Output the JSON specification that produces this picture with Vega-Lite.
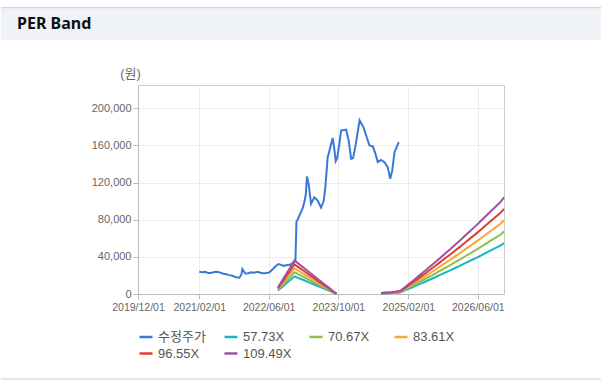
{
 "$schema": "https://vega.github.io/schema/vega-lite/v6.json",
 "background": "#ffffff",
 "padding": {"left": 0, "top": 4, "right": 0, "bottom": 0},
 "spacing": 16,
 "bounds": "full",
 "align": "none",
 "resolve": {"scale": {"color": "independent", "x": "independent", "y": "independent"}, "legend": {"color": "independent"}, "axis": {"x": "independent", "y": "independent"}},
 "config": {
  "font": "Liberation Sans, Noto Sans CJK KR, sans-serif",
  "view": {"stroke": "#cccccc"},
  "axis": {"labelColor": "#666666", "domainColor": "#bbbbbb", "tickColor": "#bbbbbb", "gridColor": "#ececec", "labelFont": "Liberation Sans, Noto Sans CJK KR, sans-serif"},
  "legend": {"labelFont": "Liberation Sans, Noto Sans CJK KR, sans-serif"}
 },
 "vconcat": [
  {
   "width": 600, "height": 46,
   "view": {"stroke": null},
   "data": {"values": [{"title": "PER Band"}]},
   "layer": [
    {"mark": {"type": "rect", "color": "#eff3f8"},
     "encoding": {"y": {"datum": 11, "type": "quantitative", "scale": {"domain": [0, 46]}, "axis": null}, "y2": {"datum": 46}}},
    {"mark": {"type": "rule", "color": "#cccccc", "strokeWidth": 1},
     "encoding": {"y": {"datum": 46, "type": "quantitative", "axis": null}}},
    {"mark": {"type": "text", "align": "left", "baseline": "middle", "dx": 16, "font": "Noto Sans", "fontSize": 16, "fontWeight": "bold", "color": "#111111"},
     "encoding": {"x": {"datum": 0, "type": "quantitative", "scale": {"domain": [0, 1]}, "axis": null}, "y": {"datum": 28.5, "type": "quantitative", "axis": null}, "text": {"field": "title"}}}
   ]
  },
  {
   "spacing": 0,
   "bounds": "full",
   "align": "none",
   "resolve": {"scale": {"color": "independent", "x": "independent", "y": "independent"}, "legend": {"color": "independent"}},
   "hconcat": [
    {
     "width": 1, "height": 1,
     "view": {"stroke": null},
     "data": {"values": [{"t": ""}]},
     "mark": {"type": "text"},
     "encoding": {"text": {"field": "t"}}
    },
    {
     "width": 366, "height": 209,
     "encoding": {
      "x": {"field": "d", "type": "temporal",
       "scale": {"type": "utc", "domain": [{"year": 2019, "month": 12, "date": 1, "utc": true}, {"year": 2026, "month": 12, "date": 1, "utc": true}]},
       "axis": {"title": null, "labelExpr": "utcFormat(datum.value, '%Y/%m/%d')", "labelFontSize": 10.5, "tickSize": 5, "labelPadding": 3, "grid": true, "labelOverlap": false, "labelFlush": false, "labelBound": false,
        "values": [{"year": 2019, "month": 12, "date": 1, "utc": true}, {"year": 2021, "month": 2, "date": 1, "utc": true}, {"year": 2022, "month": 6, "date": 1, "utc": true}, {"year": 2023, "month": 10, "date": 1, "utc": true}, {"year": 2025, "month": 2, "date": 1, "utc": true}, {"year": 2026, "month": 6, "date": 1, "utc": true}]}},
      "y": {"field": "v", "type": "quantitative", "scale": {"domain": [0, 225000]},
       "axis": {"title": "(원)", "titleAngle": 0, "titleX": -8, "titleY": -12, "titleAlign": "center", "titleBaseline": "middle", "titleFontSize": 13, "titleFontWeight": "normal", "titleColor": "#666666",
        "values": [0, 40000, 80000, 120000, 160000, 200000], "labelExpr": "format(datum.value, ',')", "labelFontSize": 11, "tickSize": 5, "labelPadding": 2, "minExtent": 135, "grid": true}}
     },
     "layer": [
      {
       "data": {"values": [
        {"d": "2021-02-01", "v": 24000}, {"d": "2021-02-22", "v": 23500}, {"d": "2021-03-15", "v": 23800}, {"d": "2021-04-05", "v": 22500},
        {"d": "2021-04-26", "v": 22700}, {"d": "2021-05-17", "v": 23800}, {"d": "2021-06-07", "v": 24000}, {"d": "2021-06-28", "v": 23000},
        {"d": "2021-07-19", "v": 21800}, {"d": "2021-08-09", "v": 21200}, {"d": "2021-08-30", "v": 20300}, {"d": "2021-09-20", "v": 19600},
        {"d": "2021-10-11", "v": 18300}, {"d": "2021-10-25", "v": 17700}, {"d": "2021-11-08", "v": 17600}, {"d": "2021-11-22", "v": 20500},
        {"d": "2021-11-29", "v": 26800}, {"d": "2021-12-06", "v": 25200}, {"d": "2021-12-20", "v": 22000}, {"d": "2022-01-10", "v": 22300},
        {"d": "2022-01-31", "v": 23300}, {"d": "2022-02-21", "v": 23000}, {"d": "2022-03-14", "v": 23900}, {"d": "2022-04-04", "v": 22900},
        {"d": "2022-04-25", "v": 22300}, {"d": "2022-05-16", "v": 22600}, {"d": "2022-06-06", "v": 23300}, {"d": "2022-06-27", "v": 26300},
        {"d": "2022-07-18", "v": 29500}, {"d": "2022-08-08", "v": 32200}, {"d": "2022-08-22", "v": 31600}, {"d": "2022-09-12", "v": 30300},
        {"d": "2022-10-03", "v": 30900}, {"d": "2022-10-24", "v": 31500}, {"d": "2022-11-07", "v": 32500}, {"d": "2022-11-21", "v": 33600},
        {"d": "2022-12-05", "v": 36000}, {"d": "2022-12-12", "v": 78000}, {"d": "2022-12-20", "v": 80000}, {"d": "2023-01-03", "v": 85000},
        {"d": "2023-01-26", "v": 93000}, {"d": "2023-02-07", "v": 100000}, {"d": "2023-02-16", "v": 108000}, {"d": "2023-02-23", "v": 126500},
        {"d": "2023-03-07", "v": 118500}, {"d": "2023-03-24", "v": 97000}, {"d": "2023-04-16", "v": 104000}, {"d": "2023-05-09", "v": 100500},
        {"d": "2023-06-02", "v": 93000}, {"d": "2023-06-20", "v": 100000}, {"d": "2023-07-02", "v": 114800}, {"d": "2023-07-18", "v": 147000},
        {"d": "2023-07-30", "v": 154000}, {"d": "2023-08-22", "v": 168000}, {"d": "2023-09-01", "v": 158000}, {"d": "2023-09-12", "v": 143000},
        {"d": "2023-09-22", "v": 146000}, {"d": "2023-10-08", "v": 162000}, {"d": "2023-10-20", "v": 176000}, {"d": "2023-11-24", "v": 177000},
        {"d": "2023-12-12", "v": 165000}, {"d": "2023-12-29", "v": 145600}, {"d": "2024-01-12", "v": 146500}, {"d": "2024-01-29", "v": 160000},
        {"d": "2024-02-26", "v": 187000}, {"d": "2024-03-24", "v": 179700}, {"d": "2024-04-16", "v": 168800}, {"d": "2024-05-05", "v": 160000},
        {"d": "2024-05-28", "v": 159000}, {"d": "2024-06-16", "v": 150800}, {"d": "2024-07-02", "v": 142000}, {"d": "2024-07-25", "v": 144300},
        {"d": "2024-08-18", "v": 141800}, {"d": "2024-09-10", "v": 136400}, {"d": "2024-09-27", "v": 124000}, {"d": "2024-10-11", "v": 132800},
        {"d": "2024-10-27", "v": 152700}, {"d": "2024-11-26", "v": 163600}
       ]},
       "mark": {"type": "line", "strokeWidth": 2},
       "encoding": {
        "color": {"datum": "수정주가", "type": "nominal",
         "scale": {"domain": ["수정주가", "57_73X", "70_67X", "83_61X", "96_55X", "109_49X"], "range": ["#3a78d8", "#19b5c4", "#8bbf45", "#f5a83a", "#e23b35", "#9b51a8"]},
         "legend": {"title": null, "orient": "bottom", "direction": "horizontal", "columns": 4, "gridAlign": "all", "symbolType": "stroke", "symbolSize": 169, "symbolStrokeWidth": 2.5, "labelFontSize": 13, "labelColor": "#555555", "labelOffset": 4, "columnPadding": 12, "rowPadding": 1.5, "offset": 16, "labelExpr": "replace(datum.label, '_', '.')"}}
       }
      },
      {
       "data": {"values": [
        {"d": "2022-08-05", "g": 1, "57_73X": 3752, "70_67X": 4594, "83_61X": 5435, "96_55X": 6276, "109_49X": 7117},
        {"d": "2022-08-26", "g": 1, "57_73X": 6581, "70_67X": 8056, "83_61X": 9532, "96_55X": 11007, "109_49X": 12482},
        {"d": "2022-09-16", "g": 1, "57_73X": 9295, "70_67X": 11378, "83_61X": 13461, "96_55X": 15545, "109_49X": 17628},
        {"d": "2022-10-07", "g": 1, "57_73X": 12066, "70_67X": 14770, "83_61X": 17474, "96_55X": 20179, "109_49X": 22883},
        {"d": "2022-10-28", "g": 1, "57_73X": 14837, "70_67X": 18162, "83_61X": 21488, "96_55X": 24813, "109_49X": 28139},
        {"d": "2022-11-18", "g": 1, "57_73X": 17665, "70_67X": 21625, "83_61X": 25585, "96_55X": 29544, "109_49X": 33504},
        {"d": "2022-11-28", "g": 1, "57_73X": 19051, "70_67X": 23321, "83_61X": 27591, "96_55X": 31862, "109_49X": 36132},
        {"d": "2022-12-30", "g": 1, "57_73X": 16973, "70_67X": 20777, "83_61X": 24581, "96_55X": 28386, "109_49X": 32190},
        {"d": "2023-02-03", "g": 1, "57_73X": 14779, "70_67X": 18092, "83_61X": 21404, "96_55X": 24717, "109_49X": 28029},
        {"d": "2023-03-10", "g": 1, "57_73X": 12470, "70_67X": 15265, "83_61X": 18060, "96_55X": 20855, "109_49X": 23650},
        {"d": "2023-04-14", "g": 1, "57_73X": 10218, "70_67X": 12509, "83_61X": 14799, "96_55X": 17089, "109_49X": 19380},
        {"d": "2023-05-19", "g": 1, "57_73X": 7967, "70_67X": 9752, "83_61X": 11538, "96_55X": 13324, "109_49X": 15110},
        {"d": "2023-06-23", "g": 1, "57_73X": 5715, "70_67X": 6996, "83_61X": 8277, "96_55X": 9558, "109_49X": 10840},
        {"d": "2023-07-28", "g": 1, "57_73X": 3464, "70_67X": 4240, "83_61X": 5017, "96_55X": 5793, "109_49X": 6569},
        {"d": "2023-08-25", "g": 1, "57_73X": 1616, "70_67X": 1979, "83_61X": 2341, "96_55X": 2703, "109_49X": 3066},
        {"d": "2023-09-18", "g": 1, "57_73X": 173, "70_67X": 212, "83_61X": 251, "96_55X": 290, "109_49X": 328},
        {"d": "2024-07-25", "g": 2, "57_73X": 577, "70_67X": 707, "83_61X": 836, "96_55X": 966, "109_49X": 1095},
        {"d": "2024-08-29", "g": 2, "57_73X": 808, "70_67X": 989, "83_61X": 1171, "96_55X": 1352, "109_49X": 1533},
        {"d": "2024-10-03", "g": 2, "57_73X": 1039, "70_67X": 1272, "83_61X": 1505, "96_55X": 1738, "109_49X": 1971},
        {"d": "2024-11-07", "g": 2, "57_73X": 1386, "70_67X": 1696, "83_61X": 2007, "96_55X": 2317, "109_49X": 2628},
        {"d": "2024-12-05", "g": 2, "57_73X": 1732, "70_67X": 2120, "83_61X": 2508, "96_55X": 2897, "109_49X": 3285},
        {"d": "2025-01-09", "g": 2, "57_73X": 3926, "70_67X": 4806, "83_61X": 5685, "96_55X": 6565, "109_49X": 7445},
        {"d": "2025-02-13", "g": 2, "57_73X": 6235, "70_67X": 7632, "83_61X": 9030, "96_55X": 10427, "109_49X": 11825},
        {"d": "2025-03-20", "g": 2, "57_73X": 8544, "70_67X": 10459, "83_61X": 12374, "96_55X": 14289, "109_49X": 16205},
        {"d": "2025-04-24", "g": 2, "57_73X": 10853, "70_67X": 13286, "83_61X": 15719, "96_55X": 18151, "109_49X": 20584},
        {"d": "2025-05-29", "g": 2, "57_73X": 13162, "70_67X": 16113, "83_61X": 19063, "96_55X": 22013, "109_49X": 24964},
        {"d": "2025-07-03", "g": 2, "57_73X": 15587, "70_67X": 19081, "83_61X": 22575, "96_55X": 26069, "109_49X": 29562},
        {"d": "2025-08-07", "g": 2, "57_73X": 18012, "70_67X": 22049, "83_61X": 26086, "96_55X": 30124, "109_49X": 34161},
        {"d": "2025-09-11", "g": 2, "57_73X": 20494, "70_67X": 25088, "83_61X": 29682, "96_55X": 34275, "109_49X": 38869},
        {"d": "2025-10-16", "g": 2, "57_73X": 22977, "70_67X": 28127, "83_61X": 33277, "96_55X": 38427, "109_49X": 43577},
        {"d": "2025-11-20", "g": 2, "57_73X": 25401, "70_67X": 31095, "83_61X": 36788, "96_55X": 42482, "109_49X": 48176},
        {"d": "2025-12-25", "g": 2, "57_73X": 27999, "70_67X": 34275, "83_61X": 40551, "96_55X": 46827, "109_49X": 53103},
        {"d": "2026-01-29", "g": 2, "57_73X": 30481, "70_67X": 37314, "83_61X": 44146, "96_55X": 50978, "109_49X": 57811},
        {"d": "2026-03-05", "g": 2, "57_73X": 33195, "70_67X": 40635, "83_61X": 48076, "96_55X": 55516, "109_49X": 62957},
        {"d": "2026-04-09", "g": 2, "57_73X": 35793, "70_67X": 43815, "83_61X": 51838, "96_55X": 59861, "109_49X": 67884},
        {"d": "2026-05-14", "g": 2, "57_73X": 38390, "70_67X": 46996, "83_61X": 55601, "96_55X": 64206, "109_49X": 72811},
        {"d": "2026-06-18", "g": 2, "57_73X": 41104, "70_67X": 50317, "83_61X": 59530, "96_55X": 68744, "109_49X": 77957},
        {"d": "2026-07-23", "g": 2, "57_73X": 43875, "70_67X": 53709, "83_61X": 63544, "96_55X": 73378, "109_49X": 83212},
        {"d": "2026-08-27", "g": 2, "57_73X": 46646, "70_67X": 57101, "83_61X": 67557, "96_55X": 78012, "109_49X": 88468},
        {"d": "2026-10-01", "g": 2, "57_73X": 49359, "70_67X": 60423, "83_61X": 71487, "96_55X": 82550, "109_49X": 93614},
        {"d": "2026-11-05", "g": 2, "57_73X": 52072, "70_67X": 63744, "83_61X": 75416, "96_55X": 87088, "109_49X": 98760},
        {"d": "2026-12-01", "g": 2, "57_73X": 54844, "70_67X": 67137, "83_61X": 79430, "96_55X": 91723, "109_49X": 104016}
       ]},
       "transform": [{"fold": ["57_73X", "70_67X", "83_61X", "96_55X", "109_49X"], "as": ["k", "v"]}],
       "mark": {"type": "line", "strokeWidth": 2},
       "encoding": {
        "color": {"field": "k", "type": "nominal", "legend": {"title": null, "orient": "bottom", "direction": "horizontal", "columns": 4, "gridAlign": "all", "symbolType": "stroke", "symbolSize": 169, "symbolStrokeWidth": 2.5, "labelFontSize": 13, "labelColor": "#555555", "labelOffset": 4, "columnPadding": 12, "rowPadding": 1.5, "offset": 16, "labelExpr": "replace(datum.label, '_', '.')"}},
        "detail": {"field": "g", "type": "nominal"}
       }
      }
     ]
    }
   ]
  },
  {
   "width": 600, "height": 1,
   "view": {"stroke": null},
   "data": {"values": [{}]},
   "mark": {"type": "rule", "color": "#cccccc", "strokeWidth": 1},
   "encoding": {"y": {"datum": 1, "type": "quantitative", "scale": {"domain": [0, 1]}, "axis": null}}
  }
 ]
}
